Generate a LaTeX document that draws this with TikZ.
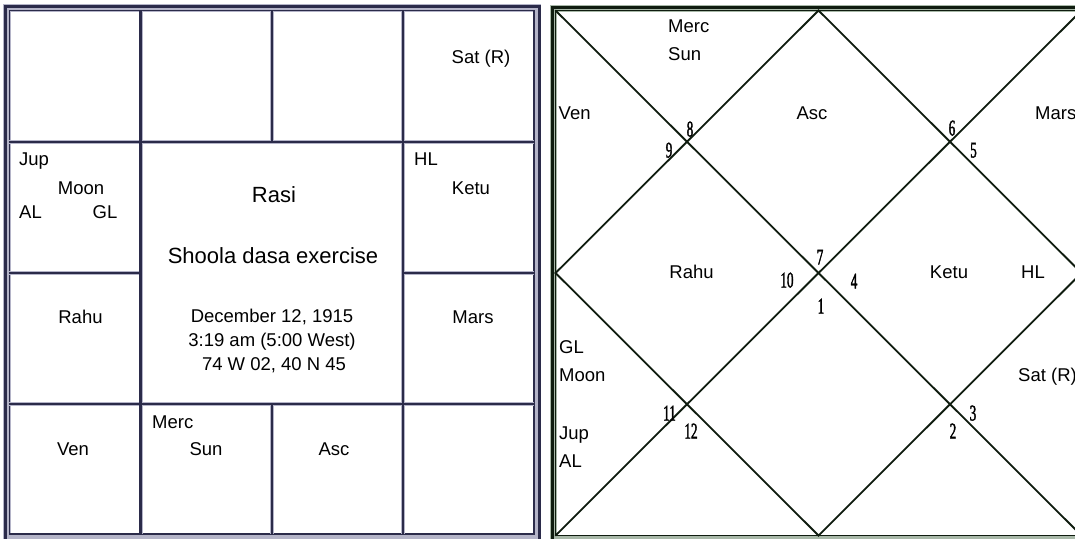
\documentclass[tikz,border=0pt]{standalone}
\usepackage{fontspec}
\setmainfont{Liberation Sans}
\newfontfamily\numfont[FakeStretch=0.58,FakeBold=1.6]{Liberation Serif}
\definecolor{navy}{HTML}{2B2B4A}
\definecolor{navylight}{HTML}{B4B4C8}
\definecolor{ink}{HTML}{0F1C0F}
\definecolor{inklight}{HTML}{A8B8A8}
\begin{document}
\begin{tikzpicture}[x=1pt,y=-1pt,
  lbl/.style={inner sep=0pt, font=\fontsize{18.5}{22}\selectfont, text height=13.2pt, text depth=0pt},
  bigl/.style={inner sep=0pt, font=\fontsize{22}{26}\selectfont, text height=15.8pt, text depth=0pt},
  num/.style={inner sep=0pt, font=\numfont\fontsize{22.5}{24}\selectfont, text height=15pt, text depth=0pt},
  gridfringe/.style={navylight, line width=4pt},
  gridline/.style={navy, line width=2.2pt},
  diagline/.style={ink, line width=1.8pt, line cap=round}]
\useasboundingbox (0,0) rectangle (1075,538);
\clip (0,0) rectangle (1075,538);
\fill[white] (0,0) rectangle (1075,538);

% ---------- left chart (Rasi, square layout) ----------
\coordinate (L00) at (9.3,10.5);
\coordinate (L44) at (534,534);
\draw[navylight, line width=7pt] (6.5,7.5) rectangle (537,537);
\draw[navylight, line width=3pt] (9.3,10.5) rectangle (534,534);
\draw[navy, line width=3pt] (5.5,6.5) rectangle (539.5,540);
\draw[navy, line width=1.3pt] (L00) rectangle (L44);

\coordinate (LvA1) at (140.5,10.5);  \coordinate (LvA2) at (140.5,534);
\coordinate (LvC1) at (402.9,10.5);  \coordinate (LvC2) at (402.9,534);
\coordinate (LvB1) at (271.7,10.5);  \coordinate (LvB2) at (271.7,141.7);
\coordinate (LvB3) at (271.7,404);   \coordinate (LvB4) at (271.7,534);
\coordinate (LhA1) at (9.3,141.7);   \coordinate (LhA2) at (534,141.7);
\coordinate (LhC1) at (9.3,404);     \coordinate (LhC2) at (534,404);
\coordinate (LhB1) at (9.3,272.9);   \coordinate (LhB2) at (140.5,272.9);
\coordinate (LhB3) at (402.9,272.9); \coordinate (LhB4) at (534,272.9);
\foreach \s in {gridfringe,gridline}{
  \draw[\s] (LvA1) -- (LvA2);
  \draw[\s] (LvC1) -- (LvC2);
  \draw[\s] (LvB1) -- (LvB2);
  \draw[\s] (LvB3) -- (LvB4);
  \draw[\s] (LhA1) -- (LhA2);
  \draw[\s] (LhC1) -- (LhC2);
  \draw[\s] (LhB1) -- (LhB2);
  \draw[\s] (LhB3) -- (LhB4);
}

\node[lbl] (lsat) at (481,57) {Sat (R)};
\node[lbl, anchor=west] (ljup) at (19,159) {Jup};
\node[lbl] (lmoon) at (81,188) {Moon};
\node[lbl, anchor=west] (lal) at (19,212) {AL};
\node[lbl] (lgl) at (105,212) {GL};
\node[bigl] (lrasi) at (274,195) {Rasi};
\node[bigl] (lshoola) at (273,256) {Shoola dasa exercise};
\node[lbl, anchor=west] (lhl) at (414,159) {HL};
\node[lbl] (lketu) at (471,188) {Ketu};
\node[lbl] (lrahu) at (80.5,317) {Rahu};
\node[lbl] (ldate) at (272,316) {December 12, 1915};
\node[lbl] (ltime) at (272,340) {3:19 am (5:00 West)};
\node[lbl] (lplace) at (274,364) {74 W 02, 40 N 45};
\node[lbl] (lmars) at (473,317) {Mars};
\node[lbl] (lven) at (73,449) {Ven};
\node[lbl, anchor=west] (lmerc) at (152,422) {Merc};
\node[lbl] (lsun) at (206,449) {Sun};
\node[lbl] (lasc) at (334,449) {Asc};

% ---------- right chart (North Indian diamond layout) ----------
\coordinate (Rtl) at (555.5,10.5);
\coordinate (Rtr) at (1081.5,10.5);
\coordinate (Rbl) at (555.5,535.5);
\coordinate (Rbr) at (1081.5,535.5);
\coordinate (Rt) at (818.5,10.5);
\coordinate (Rb) at (818.5,535.5);
\coordinate (Rl) at (555.5,273);
\coordinate (Rr) at (1081.5,273);
\draw[inklight, line width=7pt] (553,8) rectangle (1084,538);
\draw[ink, line width=3pt] (552,7) rectangle (1085,541);
\draw[ink, line width=1.3pt] (Rtl) rectangle (Rbr);
\draw[diagline] (Rtl) -- (Rbr);
\draw[diagline] (Rtr) -- (Rbl);
\draw[diagline] (Rt) -- (Rr) -- (Rb) -- (Rl) -- cycle;

\node[lbl, anchor=west] (rmerc) at (668,26) {Merc};
\node[lbl, anchor=west] (rsun) at (668,54) {Sun};
\node[lbl, anchor=west] (rven) at (558.5,113) {Ven};
\node[lbl] (rasc) at (812,113) {Asc};
\node[lbl, anchor=west] (rmars) at (1035,113) {Mars};
\node[lbl] (rrahu) at (691.5,272) {Rahu};
\node[lbl] (rketu) at (949,272) {Ketu};
\node[lbl] (rhl) at (1033,272) {HL};
\node[lbl, anchor=west] (rgl) at (559,347) {GL};
\node[lbl, anchor=west] (rmoon) at (559,375) {Moon};
\node[lbl, anchor=west] (rjup) at (559,433) {Jup};
\node[lbl, anchor=west] (ral) at (559,461) {AL};
\node[lbl, anchor=west] (rsat) at (1018,375) {Sat (R)};

\node[num] (h8) at (690,129) {8};
\node[num] (h9) at (669,150) {9};
\node[num] (h6) at (952,128) {6};
\node[num] (h5) at (973.5,150) {5};
\node[num] (h7) at (820,257) {7};
\node[num] (h10) at (787,280) {10};
\node[num] (h4) at (854,281) {4};
\node[num] (h1) at (821,306) {1};
\node[num] (h11) at (669.5,413) {11};
\node[num] (h12) at (691,431) {12};
\node[num] (h3) at (973,413) {3};
\node[num] (h2) at (953,431) {2};
\end{tikzpicture}
\end{document}
